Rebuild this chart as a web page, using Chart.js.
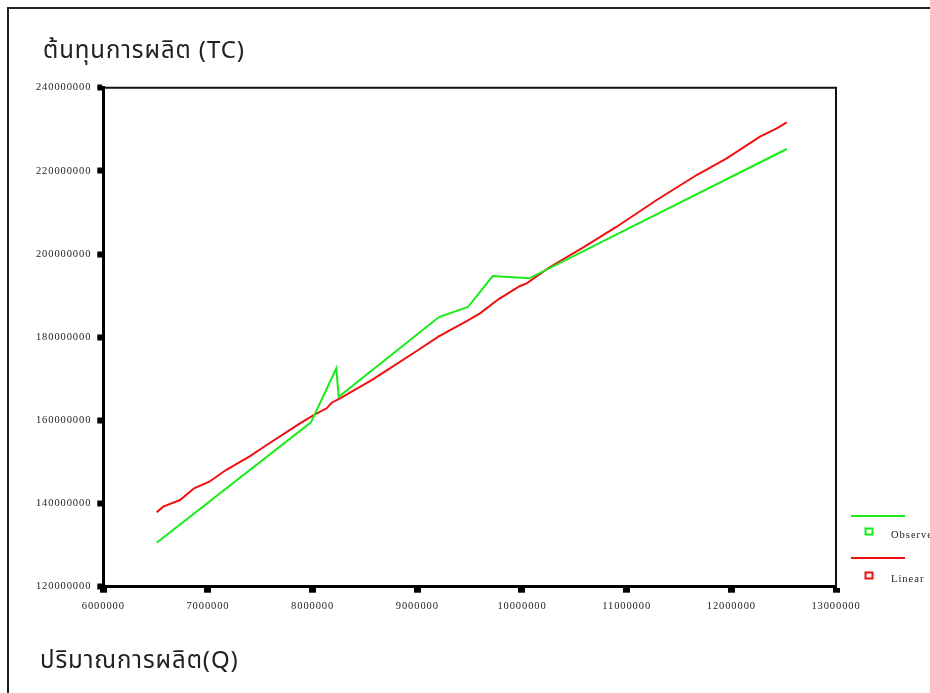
<!DOCTYPE html>
<html>
<head>
<meta charset="utf-8">
<script src="https://cdn.jsdelivr.net/npm/chart.js@4/dist/chart.umd.min.js"></script>
<style>
  html, body { margin: 0; padding: 0; background: #fff; }
  #wrap { position: relative; width: 930px; height: 693px; }
</style>
</head>
<body>
<div id="wrap"><canvas id="c" width="930" height="693"></canvas></div>
<script>
// ---- data ----
const xTitle = 'ปริมาณการผลิต(Q)';
const yTitle = 'ต้นทุนการผลิต (TC)';
const seriesLabels = ['Observed', 'Linear'];

const qObserved = [6510000, 7984000, 8226000, 8249000, 9207000, 9484000, 9720000, 10070000, 12529000];
const tcObserved = [130570000, 159530000, 172520000, 165690000, 184850000, 187260000, 194710000, 194160000, 225260000];

const qLinear = [6510000, 6573000, 6733000, 6867000, 7013000, 7172000, 7402000, 7561000, 7879000, 8022000,
  8134000, 8182000, 8261000, 8564000, 8723000, 8994000, 9201000, 9344000, 9472000, 9599000,
  9774000, 9981000, 10045000, 10268000, 10586000, 10905000, 11287000, 11669000, 11956000, 12274000,
  12434000, 12529000];
const tcLinear = [137880000, 139250000, 140840000, 143660000, 145240000, 148060000, 151420000, 154070000, 159290000, 161450000,
  162900000, 164240000, 165300000, 169700000, 172280000, 176680000, 180120000, 182140000, 183890000, 185740000,
  189110000, 192310000, 192960000, 196880000, 201620000, 206570000, 212990000, 219000000, 223020000, 228220000,
  230240000, 231680000];

const xTicks = [6000000, 7000000, 8000000, 9000000, 10000000, 11000000, 12000000, 13000000];
const yTicks = [120000000, 140000000, 160000000, 180000000, 200000000, 220000000, 240000000];

const toPts = (xs, ys) => xs.map((x, i) => ({ x: x, y: ys[i] }));

const tickFont = { family: "'Liberation Serif', 'Times New Roman', serif", size: 10.5 };
const titleFamily = "Tahoma, 'Noto Sans Thai', 'Noto Sans Thai UI', 'Noto Sans', 'DejaVu Sans', sans-serif";

const framePlugin = {
  id: 'frame',
  beforeDraw(chart) {
    const ctx = chart.ctx;
    ctx.save();
    ctx.fillStyle = '#fff';
    ctx.fillRect(0, 0, chart.width, chart.height);
    ctx.strokeStyle = '#222';
    ctx.lineWidth = 2;
    ctx.beginPath();
    ctx.moveTo(8, chart.height + 2);
    ctx.lineTo(8, 8);
    ctx.lineTo(chart.width + 2, 8);
    ctx.stroke();
    ctx.restore();
    ctx.letterSpacing = '0.9px';
  },
  afterDraw(chart) {
    const ctx = chart.ctx;
    const a = chart.chartArea;
    ctx.save();
    ctx.strokeStyle = '#111';
    ctx.lineWidth = 2;
    ctx.beginPath();
    ctx.moveTo(a.left, a.top);
    ctx.lineTo(a.right, a.top);
    ctx.lineTo(a.right, a.bottom);
    ctx.stroke();
    ctx.restore();

    // axis titles
    ctx.save();
    ctx.letterSpacing = '0.9px';
    ctx.fillStyle = '#222';
    ctx.textAlign = 'left';
    ctx.textBaseline = 'middle';
    ctx.font = "24px " + titleFamily;
    ctx.fillText(yTitle, 43, 53);
    ctx.fillText(xTitle, 40, 663);
    ctx.restore();

    // legend
    ctx.save();
    ctx.letterSpacing = '1px';
    ctx.font = "10.5px 'Liberation Serif', 'Times New Roman', serif";
    ctx.textBaseline = 'middle';
    ctx.textAlign = 'left';
    const rows = [
      { ly: 516, sy: 532, ty: 535 },
      { ly: 558, sy: 576, ty: 579 }
    ];
    chart.data.datasets.forEach((ds, i) => {
      const r = rows[i];
      ctx.strokeStyle = ds.borderColor;
      ctx.lineWidth = 2;
      ctx.beginPath();
      ctx.moveTo(851, r.ly);
      ctx.lineTo(905, r.ly);
      ctx.stroke();
      ctx.strokeRect(865.5, r.sy - 3.5, 7, 6);
      ctx.fillStyle = '#222';
      ctx.fillText(ds.label, 891, r.ty);
    });
    ctx.restore();
  }
};

new Chart(document.getElementById('c'), {
  type: 'scatter',
  data: {
    datasets: [
      {
        label: seriesLabels[0],
        data: toPts(qObserved, tcObserved),
        showLine: true,
        borderColor: '#18ec18',
        backgroundColor: '#18ec18',
        borderWidth: 2,
        pointRadius: 0,
        tension: 0
      },
      {
        label: seriesLabels[1],
        data: toPts(qLinear, tcLinear),
        showLine: true,
        borderColor: '#f01010',
        backgroundColor: '#f01010',
        borderWidth: 2,
        pointRadius: 0,
        tension: 0
      }
    ]
  },
  options: {
    responsive: false,
    animation: false,
    events: [],
    layout: { padding: { left: 20, right: 94, top: 87.7, bottom: 76.3 } },
    plugins: {
      legend: { display: false },
      tooltip: { enabled: false },
      title: { display: false }
    },
    scales: {
      x: {
        type: 'linear',
        min: xTicks[0],
        max: xTicks[xTicks.length - 1],
        afterBuildTicks(scale) { scale.ticks = xTicks.map(v => ({ value: v })); },
        afterFit(scale) { scale.height = 30; },
        ticks: {
          color: '#222',
          font: tickFont,
          padding: 7,
          maxRotation: 0,
          autoSkip: false,
          callback: v => String(v)
        },
        grid: { drawOnChartArea: false, tickLength: 6, tickWidth: 7, tickColor: '#000' },
        border: { display: true, color: '#000', width: 3 }
      },
      y: {
        type: 'linear',
        min: yTicks[0],
        max: yTicks[yTicks.length - 1],
        afterBuildTicks(scale) { scale.ticks = yTicks.map(v => ({ value: v })); },
        afterFit(scale) { scale.width = 83.3; },
        ticks: {
          color: '#222',
          font: tickFont,
          padding: 6,
          autoSkip: false,
          callback: v => String(v)
        },
        grid: { drawOnChartArea: false, tickLength: 6, tickWidth: 6, tickColor: '#000' },
        border: { display: true, color: '#000', width: 3 }
      }
    }
  },
  plugins: [framePlugin]
});
</script>
</body>
</html>
